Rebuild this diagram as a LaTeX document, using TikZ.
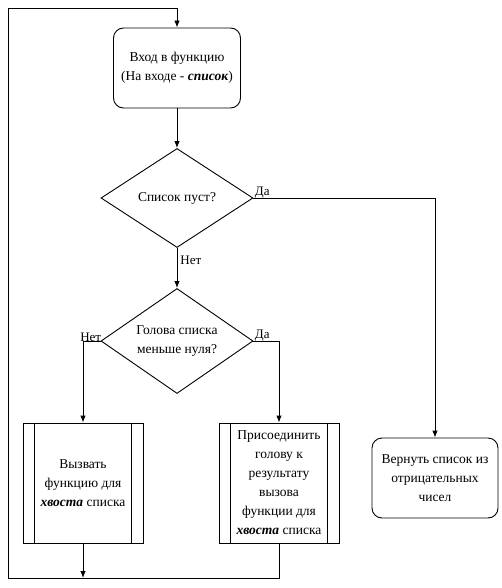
\documentclass[tikz,border=0pt]{standalone}
\usepackage{fontspec}
\setmainfont{Liberation Serif}
\usetikzlibrary{positioning,arrows.meta,shapes.geometric,calc}

\tikzset{
  block/.style={draw, rounded corners=10pt, minimum width=127pt, minimum height=80pt, align=center, inner sep=2pt},
  decision/.style={draw, diamond, aspect=1.5, inner sep=0pt, minimum width=152pt, align=center},
  subproc/.style={draw, minimum width=120pt, minimum height=120pt, align=center, inner sep=0pt},
  lbl/.style={font=\fontsize{13}{15}\selectfont, inner sep=0pt},
  arr/.style={-{Latex[length=7pt,width=5.5pt]}},
}

\begin{document}
\begin{tikzpicture}[x=1pt, y=-1pt, line width=0.9pt, font=\fontsize{13.5}{19}\selectfont]
  \useasboundingbox (0,0) rectangle (501,588);

  % blocks
  \node[block] (entry) at (177,68) {Вход в функцию\\(На входе - \textbf{\textit{список}})};
  \node[decision, minimum height=99pt] (empty) at (177,198) {Список пуст?};
  \node[decision, minimum height=105pt] (neg) at (177,341) {Голова списка\\меньше нуля?};
  \node[subproc] (recur) at (83,483) {Вызвать\\функцию для\\\textbf{\textit{хвоста}} списка};
  \node[subproc] (join) at (279,483) {Присоединить\\голову к\\результату\\вызова\\функции для\\\textbf{\textit{хвоста}} списка};
  \node[block, minimum width=126pt] (result) at (435,478) {Вернуть список из\\отрицательных\\чисел};

  % side bars of the subprocess boxes
  \foreach \n in {recur,join}{
    \draw ($(\n.north west)+(12,0)$) -- ($(\n.south west)+(12,0)$);
    \draw ($(\n.north east)+(-12,0)$) -- ($(\n.south east)+(-12,0)$);
  }

  % connectors
  \coordinate (merge) at (83,578);
  \coordinate (loopcorner) at (8,578);
  \coordinate (looptop) at (8,8);
  \draw[arr] (entry) -- (empty);
  \draw[arr] (empty) -- (neg);
  \draw[arr] (empty.east) -| (result);
  \draw[arr] (neg.west) -| (recur);
  \draw[arr] (neg.east) -| (join);
  \draw[arr] (recur) -- (merge);
  \draw[arr] (join.south) |- (loopcorner) -- (looptop) -| (entry.north);

  % branch labels
  \node[lbl, anchor=south west] (yes1) at ($(empty.east)+(1,1)$) {Да};
  \node[lbl, anchor=north west] (no1) at ($(empty.south)+(3,8)$) {Нет};
  \node[lbl, anchor=south east] (no2) at ($(neg.west)+(1,1)$) {Нет};
  \node[lbl, anchor=south west] (yes2) at ($(neg.east)+(1,1)$) {Да};
\end{tikzpicture}
\end{document}
